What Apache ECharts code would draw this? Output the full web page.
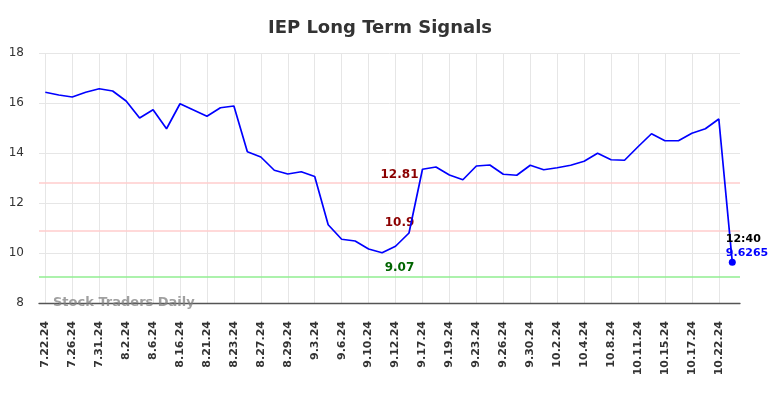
<!DOCTYPE html>
<html>
<head>
<meta charset="utf-8">
<title>IEP Long Term Signals</title>
<script src="https://cdn.jsdelivr.net/npm/echarts@6/dist/echarts.min.js"></script>
<style>
  html, body { margin: 0; padding: 0; background: #fff; }
  #chart { width: 784px; height: 398px; }
</style>
</head>
<body>
<div id="chart"></div>
<script>
// dates (every other one is shown on the axis)
const dates = [
  "7.22.24", "7.24.24", "7.26.24", "7.29.24", "7.31.24", "8.1.24",
  "8.2.24", "8.5.24", "8.6.24", "8.12.24", "8.16.24", "8.19.24",
  "8.21.24", "8.22.24", "8.23.24", "8.26.24", "8.27.24", "8.28.24",
  "8.29.24", "8.30.24", "9.3.24", "9.4.24", "9.6.24", "9.9.24",
  "9.10.24", "9.11.24", "9.12.24", "9.16.24", "9.17.24", "9.18.24",
  "9.19.24", "9.20.24", "9.23.24", "9.25.24", "9.26.24", "9.27.24",
  "9.30.24", "10.1.24", "10.2.24", "10.3.24", "10.4.24", "10.7.24",
  "10.8.24", "10.10.24", "10.11.24", "10.14.24", "10.15.24", "10.16.24",
  "10.17.24", "10.21.24", "10.22.24", "10.23.24",
];

const prices = [
  16.43, 16.32, 16.24, 16.43, 16.57, 16.48, 16.08, 15.40, 15.73, 14.97,
  15.97, 15.72, 15.47, 15.81, 15.88, 14.05, 13.84, 13.31, 13.16, 13.25,
  13.06, 11.13, 10.55, 10.48, 10.16, 10.01, 10.27, 10.80, 13.35, 13.44,
  13.12, 12.93, 13.48, 13.52, 13.15, 13.11, 13.51, 13.33, 13.41, 13.51,
  13.67, 13.99, 13.73, 13.71, 14.25, 14.77, 14.49, 14.49, 14.79, 14.97,
  15.36, 9.6265,
];

const lastTime = "12:40";

// signal levels
const levels = [12.81, 10.9, 9.07];
const levelLineColors = ["#ffcccc", "#ffcccc", "#90ee90"];
const levelTextColors = ["#8b0000", "#8b0000", "#006400"];

const yTicks = { min: 8, max: 18, step: 2 };

const FONT = "DejaVu Sans";

const chart = echarts.init(document.getElementById("chart"));

const lineData = prices.map((v, i) => {
  if (i !== prices.length - 1) return v;
  return {
    value: v,
    symbol: "circle",
    symbolSize: 7,
    label: {
      show: true,
      position: [-3, -26],
      align: "left",
      verticalAlign: "top",
      formatter: "{t|" + lastTime + "}\n{v|" + v + "}",
      rich: {
        t: { fontFamily: FONT, fontSize: 11, fontWeight: "bold", color: "#000", lineHeight: 13.5 },
        v: { fontFamily: FONT, fontSize: 11, fontWeight: "bold", color: "#0000ff", lineHeight: 13.5 },
      },
    },
  };
});

const option = {
  animation: false,
  title: {
    text: "IEP Long Term Signals",
    left: 375,
    top: 14,
    textAlign: "center",
    textStyle: { fontFamily: FONT, fontSize: 18, fontWeight: "bold", color: "#333" },
  },
  graphic: [
    {
      type: "text",
      left: 53,
      top: 296,
      z: 10,
      style: {
        text: "Stock Traders Daily",
        fontFamily: FONT,
        fontSize: 13,
        fontWeight: "bold",
        fill: "rgba(128,128,128,0.75)",
      },
    },
  ],
  grid: [
    { left: 39, right: 44, top: 53, bottom: 95 },
    { left: 45.3, right: 51.7, top: 53, bottom: 95 },
  ],
  xAxis: [
    {
      gridIndex: 0,
      type: "value",
      min: 0,
      max: 1,
      axisLine: { show: true, lineStyle: { color: "#555", width: 1.3 } },
      axisTick: { show: false },
      axisLabel: { show: false },
      splitLine: { show: false },
    },
    {
      gridIndex: 1,
      type: "category",
      data: dates,
      boundaryGap: false,
      axisLine: { show: false },
      axisTick: { show: false },
      axisLabel: {
        interval: 1,
        rotate: 90,
        margin: 18,
        fontFamily: FONT,
        fontSize: 11,
        fontWeight: "bold",
        color: "#333",
      },
      splitLine: {
        show: true,
        interval: 1,
        lineStyle: { color: "#e6e6e6", width: 1 },
      },
    },
  ],
  yAxis: [
    {
      gridIndex: 0,
      type: "value",
      min: yTicks.min,
      max: yTicks.max,
      interval: yTicks.step,
      axisLine: { show: false },
      axisTick: { show: false },
      axisLabel: { margin: 15, fontFamily: FONT, fontSize: 12, color: "#333" },
      splitLine: { show: true, lineStyle: { color: "#e6e6e6", width: 1 } },
    },
    {
      gridIndex: 1,
      type: "value",
      min: yTicks.min,
      max: yTicks.max,
      show: false,
      splitLine: { show: false },
    },
  ],
  series: [
    {
      name: "levels",
      type: "line",
      xAxisIndex: 0,
      yAxisIndex: 0,
      data: [],
      silent: true,
      markLine: {
        symbol: "none",
        silent: true,
        data: levels.map((lv, i) => ({
          yAxis: lv,
          lineStyle: { color: levelLineColors[i], width: 1.5, type: "solid" },
          label: {
            show: true,
            position: "insideMiddleTop",
            formatter: String(lv),
            offset: [10, 3],
            fontFamily: FONT,
            fontSize: 12,
            fontWeight: "bold",
            color: levelTextColors[i],
          },
        })),
      },
    },
    {
      name: "IEP",
      type: "line",
      xAxisIndex: 1,
      yAxisIndex: 1,
      data: lineData,
      symbol: "none",
      showSymbol: true,
      z: 5,
      lineStyle: { color: "#0000ff", width: 1.7 },
      itemStyle: { color: "#0000ff" },
    },
  ],
};

chart.setOption(option);
</script>
</body>
</html>
